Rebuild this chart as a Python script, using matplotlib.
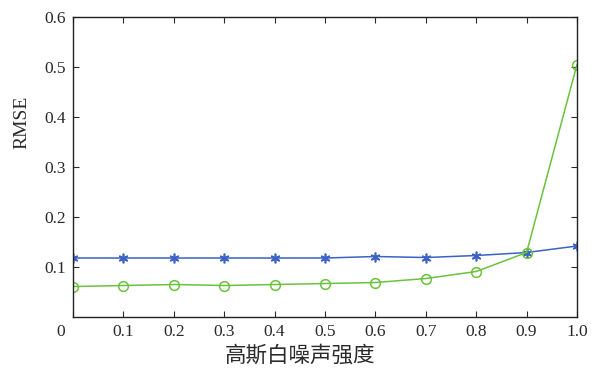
import matplotlib
matplotlib.use('Agg')
import matplotlib.pyplot as plt
import matplotlib.transforms as mtransforms
import numpy as np

noise = [0.0, 0.1, 0.2, 0.3, 0.4, 0.5, 0.6, 0.7, 0.8, 0.9, 1.0]
rmse_blue = [0.118, 0.118, 0.118, 0.118, 0.118, 0.118, 0.121, 0.119, 0.123, 0.129, 0.142]
rmse_green = [0.061, 0.063, 0.065, 0.063, 0.065, 0.067, 0.069, 0.077, 0.091, 0.129, 0.505]
xtick_labels = ['0', '0.1', '0.2', '0.3', '0.4', '0.5', '0.6', '0.7', '0.8', '0.9', '1.0']
ytick_vals = [0.1, 0.2, 0.3, 0.4, 0.5, 0.6]

plt.rcParams['font.family'] = ['Liberation Serif', 'Noto Sans CJK SC']

fig = plt.figure(figsize=(5.93, 3.72), dpi=100)
ax = fig.add_axes([0.1231, 0.1478, 0.8499, 0.8065])

ax.plot(noise, rmse_blue, color='#3b62c4', lw=1.1, marker=(6, 2, 0),
        markersize=7, markeredgewidth=1.2)
ax.plot(noise, rmse_green, color='#6cc23e', lw=1.1, marker='o',
        markersize=7, markerfacecolor='none', markeredgewidth=1.1)

ax.set_xlim(0, 1.0)
ax.set_ylim(0, 0.6)
ax.set_xticks(noise)
ax.set_xticklabels(xtick_labels)
ax.set_yticks(ytick_vals)
ax.set_yticklabels([f'{v:.1f}' for v in ytick_vals])
ax.tick_params(direction='in', length=4, top=True, right=True,
               labelsize=12.5, colors='#2a2a2a', pad=5)
for s in ax.spines.values():
    s.set_linewidth(1.0)
    s.set_color('#222222')

# shift the "0" label left like the original
lab0 = ax.get_xticklabels()[0]
lab0.set_transform(lab0.get_transform() +
                   mtransforms.ScaledTranslation(-12 / 100, 0, fig.dpi_scale_trans))

ax.set_xlabel('高斯白噪声强度', fontsize=15.5, family=['Noto Sans CJK SC'],
              fontweight='light', color='#2a2a2a')
ax.xaxis.set_label_coords(0.45, -0.092)
ax.set_ylabel('RMSE', fontsize=14, color='#2a2a2a')
ax.yaxis.set_label_coords(-0.085, 0.65)

fig.savefig('out.png', dpi=100)
